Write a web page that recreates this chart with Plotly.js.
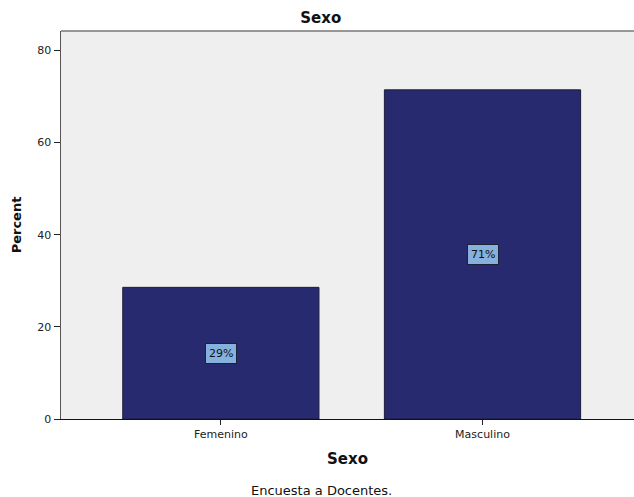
<!DOCTYPE html>
<html>
<head>
<meta charset="utf-8">
<script src="https://cdn.plot.ly/plotly-3.0.1.min.js"></script>
<style>
  html, body { margin: 0; padding: 0; background: #ffffff; }
  #chart { width: 634px; height: 497px; }
</style>
</head>
<body>
<div id="chart"></div>
<script>
// Survey of teachers: share of respondents by sex
const categories = ['Femenino', 'Masculino'];
const percents = [28.57, 71.43];
const yTicks = [0, 20, 40, 60, 80];

const FONT = 'DejaVu Sans, Verdana, sans-serif';

const bars = {
  type: 'bar',
  x: categories,
  y: percents,
  width: 0.75,
  marker: {
    color: '#282a70',
    line: { color: '#1c1c3c', width: 1 }
  },
  hoverinfo: 'skip'
};

// Value boxes sit at half the bar height
const valueLabels = categories.map((c, i) => ({
  x: c,
  y: percents[i] / 2,
  xref: 'x',
  yref: 'y',
  text: Math.round(percents[i]) + '%',
  showarrow: false,
  font: { family: FONT, size: 11, color: '#111111' },
  bgcolor: '#86b1dc',
  bordercolor: '#1d2238',
  borderwidth: 1,
  borderpad: 3
}));

const layout = {
  width: 634,
  height: 497,
  margin: { l: 61, r: 0, t: 31, b: 78 },
  paper_bgcolor: '#ffffff',
  plot_bgcolor: '#efefef',
  showlegend: false,
  bargap: 0,
  title: {
    text: '<b>Sexo</b>',
    font: { family: FONT, size: 15, color: '#111111' },
    x: 0.506,
    xref: 'container',
    xanchor: 'center',
    y: 0.965,
    yref: 'container',
    yanchor: 'middle'
  },
  xaxis: {
    type: 'category',
    range: [-0.611, 1.579],
    showgrid: false,
    zeroline: false,
    showline: true,
    linecolor: '#111111',
    linewidth: 1,
    ticks: 'outside',
    ticklen: 5,
    tickcolor: '#222222',
    tickfont: { family: FONT, size: 11, color: '#222222' },
    title: {
      text: '<b>Sexo</b>',
      font: { family: FONT, size: 15, color: '#111111' },
      standoff: 13
    },
    fixedrange: true
  },
  yaxis: {
    range: [0, 84.2],
    tickvals: yTicks,
    ticktext: yTicks.map(String),
    showgrid: false,
    zeroline: false,
    showline: true,
    linecolor: '#555555',
    linewidth: 1.5,
    ticks: 'outside',
    ticklen: 6,
    tickcolor: '#222222',
    tickfont: { family: FONT, size: 11, color: '#222222' },
    title: {
      text: '<b>Percent</b>',
      font: { family: FONT, size: 13, color: '#111111' },
      standoff: 12
    },
    fixedrange: true
  },
  shapes: [
    {
      type: 'line',
      xref: 'paper', yref: 'paper',
      x0: 0, x1: 1, y0: 1, y1: 1,
      line: { color: '#777777', width: 1.5 }
    }
  ],
  annotations: valueLabels.concat([
    {
      text: 'Encuesta a Docentes.',
      xref: 'paper', yref: 'paper',
      x: 0.454, y: -0.183,
      xanchor: 'center', yanchor: 'middle',
      showarrow: false,
      font: { family: FONT, size: 13, color: '#111111' }
    }
  ])
};

Plotly.newPlot('chart', [bars], layout, { displayModeBar: false, staticPlot: true });
</script>
</body>
</html>
